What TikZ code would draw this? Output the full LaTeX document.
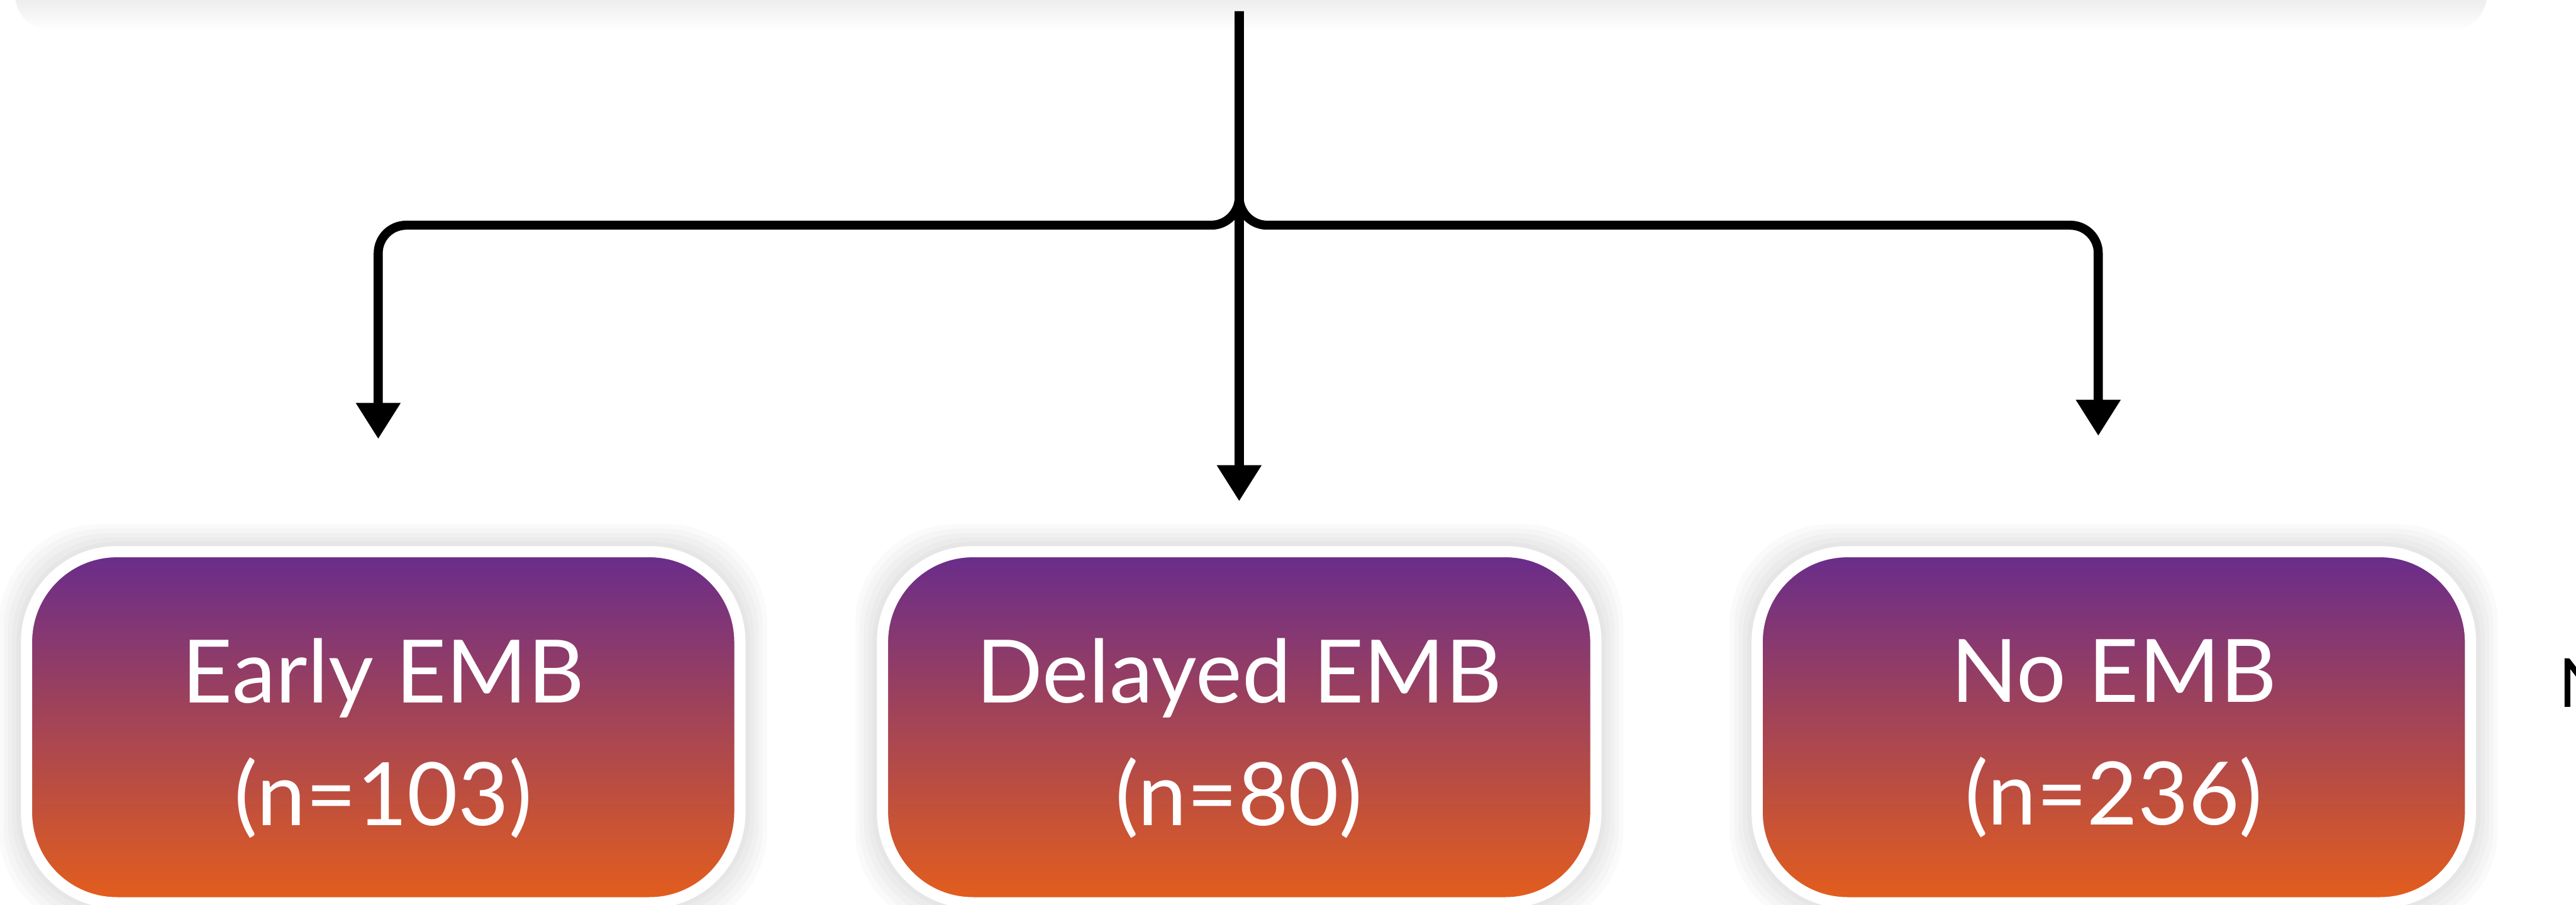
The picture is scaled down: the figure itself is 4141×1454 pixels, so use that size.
\documentclass[tikz,border=0pt]{standalone}
\usepackage{fontspec}
\setmainfont{Lato}
\usetikzlibrary{arrows.meta,backgrounds}
\definecolor{purp}{RGB}{104,44,140}
\definecolor{oran}{RGB}{228,94,28}
\tikzset{
  embbox/.style={rounded corners=1.45cm, minimum width=11.46cm, minimum height=5.64cm,
    top color=purp, bottom color=oran, draw=white, line width=0.18cm, inner sep=0pt},
  embtext/.style={text=white, font=\fontsize{40}{56}\selectfont, align=center, inner sep=0pt},
  conn/.style={line width=0.145cm, draw=black, -{Triangle[width=0.68cm,length=0.58cm]}},
}
\begin{document}
\begin{tikzpicture}[x=0.01cm,y=-0.01cm]
\useasboundingbox (0,0) rectangle (4141,1454);
% shadow of the top box (cut off)
\shade[top color=black!15, bottom color=white, rounded corners=0.6cm] (24,-60) rectangle (3998,50);
\coordinate (src) at (1992,18);

\node[embbox] (b1) at (616,1169) {};
\node[embbox] (b2) at (1992,1169) {};
\node[embbox] (b3) at (3398,1169) {};
\node[embtext] (t1) at ([shift={(0,18)}]b1.center) {Early EMB\\(n=103)};
\node[embtext] (t2) at ([shift={(0,18)}]b2.center) {Delayed EMB\\(n=80)};
\node[embtext] (t3) at ([shift={(0,18)}]b3.center) {No EMB\\(n=236)};

\begin{scope}[on background layer]
\foreach \n in {b1,b2,b3}{
  \foreach \k in {1,...,5}{
    \fill[black, opacity=0.018, rounded corners=1.6cm]
      ([shift={(-\k*7,-\k*7)}]\n.north west) rectangle ([shift={(\k*7,\k*7)}]\n.south east);
  }
}
\end{scope}

\node[anchor=west, inner sep=0pt, font=\fontsize{31}{36}\selectfont] (nlab) at (4112,1098) {N};

\draw[conn, rounded corners=0.45cm, shorten >=1.72cm] (src) -- ++(0,344) -| ([shift={(-8,0)}]b1.north);
\draw[conn, rounded corners=0.45cm, shorten >=1.77cm] (src) -- ++(0,344) -| ([shift={(-25,0)}]b3.north);
\draw[conn, shorten >=0.72cm] (src) -- (b2.north);
\end{tikzpicture}
\end{document}
